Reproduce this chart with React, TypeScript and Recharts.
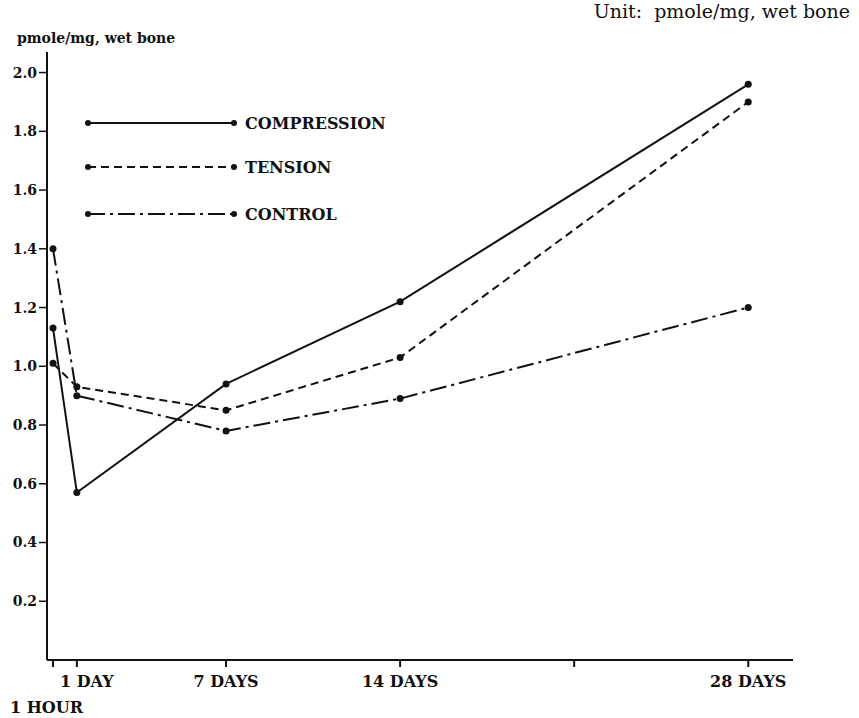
import React from 'react';
import { LineChart, Line, XAxis, YAxis, Legend } from 'recharts';

// sampling times, in days (1 hour = 1/24 day)
const days = [1 / 24, 1, 7, 14, 28];

// pmole/mg, wet bone
const compression = [1.13, 0.57, 0.94, 1.22, 1.96];
const tension = [1.01, 0.93, 0.85, 1.03, 1.9];
const control = [1.4, 0.9, 0.78, 0.89, 1.2];

const xTicks = [1 / 24, 1, 7, 14, 21, 28];
const xTickLabels = ['1 HOUR', '1 DAY', '7 DAYS', '14 DAYS', '', '28 DAYS'];
const yTicks = [0.2, 0.4, 0.6, 0.8, 1.0, 1.2, 1.4, 1.6, 1.8, 2.0];

const series = [
  { key: 'compression', name: 'COMPRESSION', dash: undefined as string | undefined },
  { key: 'tension', name: 'TENSION', dash: '8 5' },
  { key: 'control', name: 'CONTROL', dash: '17 5 3 5' },
];

const data = days.map((d, i) => ({
  day: d,
  compression: compression[i],
  tension: tension[i],
  control: control[i],
}));

const INK = '#111';
const FONT = '"DejaVu Serif", serif';

const DayTick = (props: any) => {
  const { x, y, payload } = props;
  const idx = xTicks.indexOf(payload.value);
  const label = xTickLabels[idx] || '';
  if (!label) return null;
  // "1 HOUR" sits on a second line under the axis origin
  if (idx === 0) {
    return (
      <text x={x - 43} y={y + 44} fill={INK} fontSize={16} fontWeight={700} fontFamily={FONT}>
        {label}
      </text>
    );
  }
  const dx = idx === 1 ? 10 : 0;
  return (
    <text x={x + dx} y={y + 18} textAnchor="middle" fill={INK} fontSize={16} fontWeight={700} fontFamily={FONT}>
      {label}
    </text>
  );
};

const LegendBox = () => {
  const rows = [8, 52, 99];
  return (
    <svg width={320} height={112} style={{ display: 'block' }}>
      {series.map((s, i) => (
        <g key={s.key}>
          <line x1={8} x2={154} y1={rows[i]} y2={rows[i]} stroke={INK} strokeWidth={2} strokeDasharray={s.dash} />
          <circle cx={8} cy={rows[i]} r={3} fill={INK} />
          <circle cx={154} cy={rows[i]} r={3} fill={INK} />
          <text x={165} y={rows[i] + 6} fill={INK} fontSize={16} fontWeight={700} fontFamily={FONT}>
            {s.name}
          </text>
        </g>
      ))}
    </svg>
  );
};

export default function App() {
  return (
    <div style={{ position: 'absolute', left: 0, top: 0, width: 859, height: 718, background: '#fff' }}>
      <LineChart width={859} height={718} data={data} margin={{ top: 52, right: 66, left: 0, bottom: 0 }}>
        <XAxis
          dataKey="day"
          type="number"
          domain={[-0.2, 29.8]}
          ticks={xTicks}
          interval={0}
          height={58}
          tickSize={7}
          tickMargin={2}
          axisLine={{ stroke: INK, strokeWidth: 2 }}
          tickLine={{ stroke: INK, strokeWidth: 2 }}
          tick={<DayTick />}
        />
        <YAxis
          type="number"
          domain={[0, 2.07]}
          ticks={yTicks}
          interval={0}
          width={47}
          tickSize={8}
          tickMargin={2}
          axisLine={{ stroke: INK, strokeWidth: 2 }}
          tickLine={{ stroke: INK, strokeWidth: 1.5 }}
          tickFormatter={(v: number) => v.toFixed(1)}
          tick={{ fill: INK, fontSize: 14, fontWeight: 700, fontFamily: FONT }}
        />
        <Legend
          layout="vertical"
          align="center"
          verticalAlign="middle"
          wrapperStyle={{ top: 115, left: 80 }}
          content={<LegendBox />}
        />
        {series.map(s => (
          <Line
            key={s.key}
            type="linear"
            dataKey={s.key}
            name={s.name}
            stroke={INK}
            strokeWidth={2}
            strokeDasharray={s.dash}
            dot={{ r: 3.5, fill: INK, stroke: INK, strokeWidth: 0 }}
            isAnimationActive={false}
          />
        ))}
      </LineChart>
      <svg width={859} height={718} style={{ position: 'absolute', left: 0, top: 0, pointerEvents: 'none' }}>
        <text x={17} y={43} fill={INK} fontSize={14} fontWeight={700} fontFamily={FONT}>
          pmole/mg, wet bone
        </text>
        <text x={850} y={18} textAnchor="end" fill={INK} fontSize={19} fontFamily={FONT}>
          {'Unit:\u00A0 pmole/mg, wet bone'}
        </text>
      </svg>
    </div>
  );
}
